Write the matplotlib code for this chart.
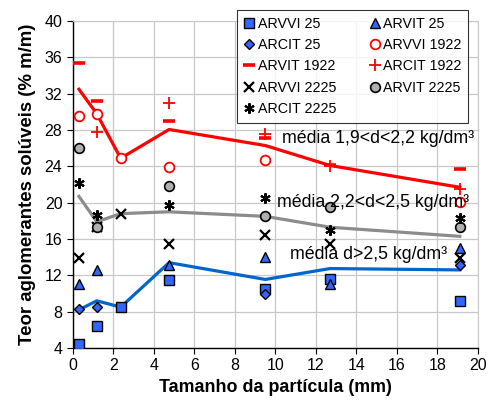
import numpy as np
import matplotlib
matplotlib.use("Agg")
import matplotlib.pyplot as plt

plt.rcParams["font.family"] = ["Liberation Sans", "DejaVu Sans"]

# particle sizes (mm)
sizes = [0.3, 1.18, 2.36, 4.75, 9.5, 12.7, 19.1]
nan = np.nan

# individual series (% m/m), nan where no point is shown
arvvi_25 = [4.4, 6.45, 8.5, 11.5, 10.55, 11.6, 9.2]
arvit_25 = [11.0, 12.6, nan, 13.1, 14.0, 11.1, 15.0]
arcit_25 = [8.3, 8.5, nan, nan, 10.0, nan, 13.1]
arvvi_1922 = [29.5, 29.8, 24.9, 23.9, 24.7, nan, 20.1]
arvit_1922 = [35.4, 31.2, nan, 29.0, 27.1, 24.2, 23.7]
arcit_1922 = [nan, 27.8, nan, 31.0, 27.6, 24.1, 21.5]
arvvi_2225 = [13.9, 17.3, 18.8, 15.5, 16.4, 15.5, 13.9]
arvit_2225 = [26.05, 17.35, nan, 21.8, 18.5, 19.55, 17.35]
arcit_2225 = [22.2, 18.6, nan, 19.8, 20.5, 17.0, 18.3]

# mean lines
mean_19_22 = [32.5, 29.8, 24.9, 28.07, 26.3, 24.1, 21.7]
mean_22_25 = [20.7, 17.9, 18.8, 19.0, 18.5, 17.3, 16.3]
mean_25 = [8.2, 9.2, 8.5, 13.4, 11.55, 12.75, 12.6]

fig = plt.figure(figsize=(4.89, 4.07), dpi=100)
ax = fig.add_axes([0.149, 0.145, 0.8285, 0.803])

ax.plot(sizes, mean_19_22, color="#ff0000", lw=2.3, zorder=2)
ax.plot(sizes, mean_22_25, color="#8c8c8c", lw=2.3, zorder=2)
ax.plot(sizes, mean_25, color="#0066cc", lw=2.3, zorder=2)

blue = "#3366ff"
h = {}
h["ARVVI 25"] = ax.plot(sizes, arvvi_25, ls="none", marker="s", ms=6.5,
                        mfc=blue, mec="black", mew=1.0, zorder=3)[0]
h["ARVIT 25"] = ax.plot(sizes, arvit_25, ls="none", marker="^", ms=7,
                        mfc=blue, mec="black", mew=1.0, zorder=3)[0]
h["ARCIT 25"] = ax.plot(sizes, arcit_25, ls="none", marker="D", ms=5.2,
                        mfc=blue, mec="black", mew=1.0, zorder=3)[0]
h["ARVVI 1922"] = ax.plot(sizes, arvvi_1922, ls="none", marker="o", ms=7,
                          mfc="white", mec="#ff0000", mew=1.3, zorder=3)[0]
h["ARVIT 1922"] = ax.plot(sizes, arvit_1922, ls="none", marker="_", ms=9,
                          mec="#ff0000", mew=2.6, zorder=3)[0]
h["ARCIT 1922"] = ax.plot(sizes, arcit_1922, ls="none", marker="+", ms=8,
                          mec="#ff0000", mew=1.3, zorder=3)[0]
h["ARVVI 2225"] = ax.plot(sizes, arvvi_2225, ls="none", marker="x", ms=6.5,
                          mec="black", mew=1.6, zorder=3)[0]
h["ARVIT 2225"] = ax.plot(sizes, arvit_2225, ls="none", marker="o", ms=7,
                          mfc="#b0b0b0", mec="black", mew=1.2, zorder=3)[0]
h["ARCIT 2225"] = ax.plot(sizes, arcit_2225, ls="none", marker=(6, 2, 0),
                          ms=7.5, mec="black", mew=1.5, zorder=3)[0]

ax.set_xlim(0, 20)
ax.set_ylim(4, 40)
ax.set_xticks(np.arange(0, 21, 2))
ax.set_yticks(np.arange(4, 41, 4))
ax.grid(True, color="#c8c8c8", lw=0.9)
ax.set_axisbelow(True)
ax.tick_params(labelsize=11.5, direction="out", length=4, color="black")
for s in ["top", "right"]:
    ax.spines[s].set_color("#c8c8c8")
for s in ["left", "bottom"]:
    ax.spines[s].set_color("black")
    ax.spines[s].set_linewidth(1.0)

ax.set_xlabel("Tamanho da partícula (mm)", fontsize=12.9, fontweight="bold",
              labelpad=4)
ax.set_ylabel("Teor aglomerantes solúveis (% m/m)", fontsize=13.4,
              fontweight="bold", labelpad=6)

ax.text(10.3, 27.1, "média 1,9<d<2,2 kg/dm³", fontsize=12.8, va="center",
        zorder=4)
ax.text(10.1, 20.0, "média 2,2<d<2,5 kg/dm³", fontsize=12.8, va="center",
        zorder=4)
ax.text(10.7, 14.35, "média d>2,5 kg/dm³", fontsize=12.8, va="center",
        zorder=4)

order = ["ARVVI 25", "ARCIT 25", "ARVIT 1922", "ARVVI 2225", "ARCIT 2225",
         "ARVIT 25", "ARVVI 1922", "ARCIT 1922", "ARVIT 2225"]
leg = fig.legend([h[k] for k in order], order, ncol=2, loc="upper left",
                 bbox_to_anchor=(0.485, 0.975), fontsize=10.3, frameon=True,
                 fancybox=False, edgecolor="black", handlelength=0.8,
                 handletextpad=0.2, columnspacing=2.3, labelspacing=0.52,
                 borderpad=0.45, borderaxespad=0)
leg.get_frame().set_linewidth(0.8)
leg.set_zorder(10)

fig.savefig("out.png", dpi=100)
